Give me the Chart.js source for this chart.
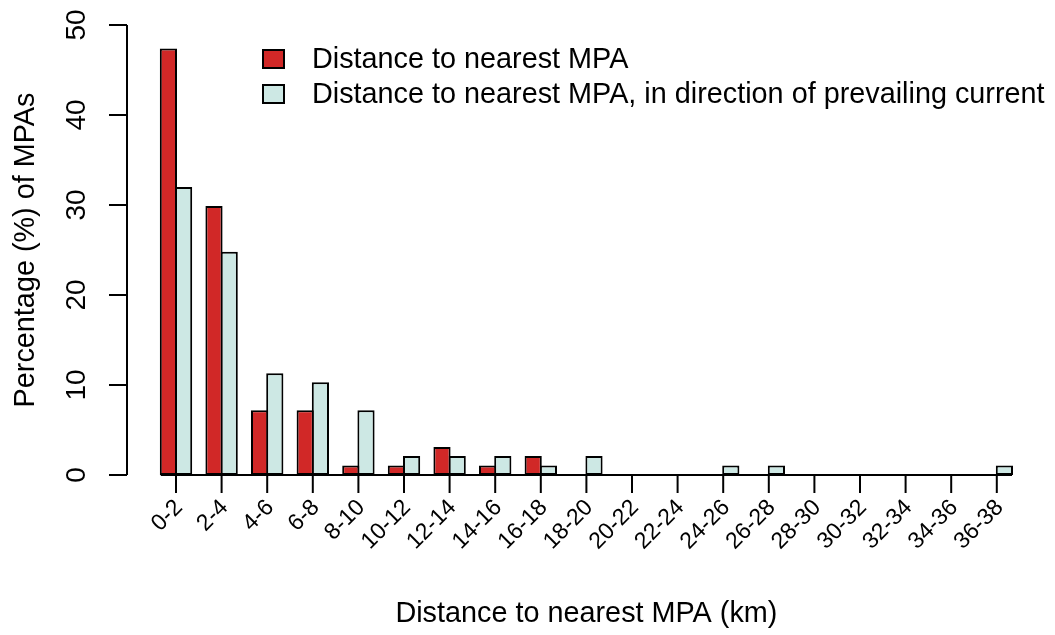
<!DOCTYPE html>
<html>
<head>
<meta charset="utf-8">
<script src="https://cdn.jsdelivr.net/npm/chart.js@4"></script>
<style>
  html, body { margin: 0; padding: 0; background: #fff; }
  #wrap { width: 1055px; height: 635px; }
</style>
</head>
<body>
<div id="wrap"><canvas id="chart" width="1055" height="635"></canvas></div>
<script>
const categories = ['0-2','2-4','4-6','6-8','8-10','10-12','12-14','14-16','16-18','18-20',
  '20-22','22-24','24-26','26-28','28-30','30-32','32-34','34-36','36-38'];

const nearest    = [47.4, 29.9, 7.2, 7.2, 1.05, 1.05, 3.1, 1.05, 2.1, 0, 0, 0, 0, 0, 0, 0, 0, 0, 0];
const downstream = [32.0, 24.8, 11.3, 10.3, 7.2, 2.1, 2.1, 2.1, 1.05, 2.1, 0, 0, 1.05, 1.05, 0, 0, 0, 0, 1.05];

const yTicks = [0, 10, 20, 30, 40, 50];
const seriesNames = ['Distance to nearest MPA', 'Distance to nearest MPA, in direction of prevailing current'];
const colors = ['#D12827', '#CDE8E4'];

const FONT = '"Liberation Sans", Arial, Helvetica, sans-serif';

// axes, labels and legend drawn R-style
const rAxes = {
  id: 'rAxes',
  afterDraw(chart) {
    const ctx = chart.ctx;
    const x = chart.scales.x, y = chart.scales.y;
    const cw = x.width / categories.length;
    ctx.save();
    ctx.strokeStyle = '#000';
    ctx.fillStyle = '#000';
    ctx.lineWidth = 2;

    // x baseline across the bars
    const y0 = y.getPixelForValue(0);
    ctx.beginPath();
    ctx.moveTo(x.getPixelForTick(0) - cw / 3, y0);
    ctx.lineTo(x.getPixelForTick(categories.length - 1) + cw / 3, y0);
    ctx.stroke();

    // x ticks + rotated labels
    ctx.font = '23px ' + FONT;
    ctx.textAlign = 'right';
    ctx.textBaseline = 'middle';
    categories.forEach((c, i) => {
      const px = x.getPixelForTick(i);
      ctx.beginPath();
      ctx.moveTo(px, y0);
      ctx.lineTo(px, y0 + 18);
      ctx.stroke();
      ctx.save();
      ctx.translate(px + 3, y0 + 29);
      ctx.rotate(-Math.PI / 4);
      ctx.fillText(c, 0, 0);
      ctx.restore();
    });

    // y axis
    const ax = 127;
    ctx.beginPath();
    ctx.moveTo(ax, y.getPixelForValue(yTicks[0]));
    ctx.lineTo(ax, y.getPixelForValue(yTicks[yTicks.length - 1]));
    ctx.stroke();
    ctx.font = '28px ' + FONT;
    ctx.textAlign = 'center';
    ctx.textBaseline = 'alphabetic';
    yTicks.forEach(t => {
      const py = y.getPixelForValue(t);
      ctx.beginPath();
      ctx.moveTo(ax - 18, py);
      ctx.lineTo(ax, py);
      ctx.stroke();
      ctx.save();
      ctx.translate(85, py);
      ctx.rotate(-Math.PI / 2);
      ctx.fillText(String(t), 0, 0);
      ctx.restore();
    });

    // axis titles
    ctx.font = '28.8px ' + FONT;
    ctx.save();
    ctx.translate(34, (y.top + y.bottom) / 2);
    ctx.rotate(-Math.PI / 2);
    ctx.fillText('Percentage (%) of MPAs', 0, 0);
    ctx.restore();
    ctx.fillText('Distance to nearest MPA (km)', (x.left + x.right) / 2, 622);

    // legend
    ctx.textAlign = 'left';
    ctx.textBaseline = 'middle';
    ctx.lineWidth = 2;
    seriesNames.forEach((name, i) => {
      const cy = 59 + i * 35;
      ctx.fillStyle = colors[i];
      ctx.fillRect(263, cy - 9, 21, 18);
      ctx.strokeRect(263, cy - 9, 21, 18);
      ctx.fillStyle = '#000';
      ctx.fillText(name, 312, cy + 1);
    });
    ctx.restore();
  }
};

const slot = 15.2;
new Chart(document.getElementById('chart'), {
  type: 'bar',
  data: {
    labels: categories,
    datasets: [
      { label: seriesNames[0], data: nearest, backgroundColor: colors[0] },
      { label: seriesNames[1], data: downstream, backgroundColor: colors[1] }
    ]
  },
  options: {
    responsive: false,
    animation: false,
    layout: { padding: { left: 153.2, right: 1055 - 1019.6, top: 25, bottom: 635 - 475 } },
    datasets: {
      bar: {
        borderColor: '#000',
        borderWidth: 2,
        borderSkipped: false,
        categoryPercentage: 2 / 3,
        barPercentage: (slot + 2) / slot
      }
    },
    scales: {
      x: { display: false, offset: true },
      y: { display: false, min: 0, max: 50 }
    },
    plugins: { legend: { display: false }, tooltip: { enabled: false } }
  },
  plugins: [rAxes]
});
</script>
</body>
</html>
